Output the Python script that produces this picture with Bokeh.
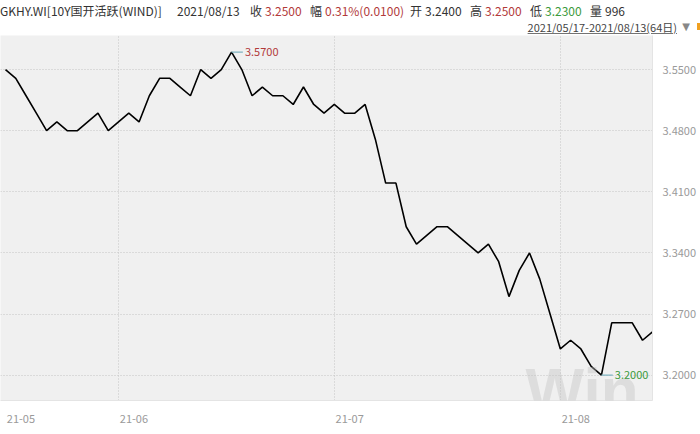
from bokeh.plotting import figure
from bokeh.layouts import column
from bokeh.models import FixedTicker, Label, Range1d, NumeralTickFormatter, Div
from bokeh.embed import file_html
from bokeh.resources import INLINE
from bokeh.core.properties import value

# ---------------- data ----------------
values = [3.55, 3.54, 3.52, 3.50, 3.48, 3.49, 3.48, 3.48, 3.49, 3.50,
          3.48, 3.49, 3.50, 3.49, 3.52, 3.54, 3.54, 3.53, 3.52, 3.55,
          3.54, 3.55, 3.57, 3.55, 3.52, 3.53, 3.52, 3.52, 3.51, 3.53,
          3.51, 3.50, 3.51, 3.50, 3.50, 3.51, 3.47, 3.42, 3.42, 3.37,
          3.35, 3.36, 3.37, 3.37, 3.36, 3.35, 3.34, 3.35, 3.33, 3.29,
          3.32, 3.34, 3.31, 3.27, 3.23, 3.24, 3.23, 3.21, 3.20, 3.26,
          3.26, 3.26, 3.24, 3.25]
month_labels = ["21-05", "21-06", "21-07", "21-08"]
month_start_idx = [0, 11, 32, 54]
y_ticks = [3.20, 3.27, 3.34, 3.41, 3.48, 3.55]

code_name = "GKHY.WI[10Y国开活跃(WIND)]"
last_date = "2021/08/13"
close_v = "3.2500"
change_v = "0.31%(0.0100)"
open_v = "3.2400"
high_v = "3.2500"
low_v = "3.2300"
volume_v = "996"
period = "2021/05/17-2021/08/13(64日)"

x = list(range(len(values)))

FONT = "Noto Sans CJK SC"
RED = "#b23a3a"
GREEN = "#3c9a3c"
DARK = "#333333"
GRID = "#c4c4c4"

# ---------------- header ----------------
segments = [
    (code_name, DARK, 0),
    (last_date, DARK, 177),
    ("收", DARK, 250),
    (close_v, RED, 265),
    ("幅", DARK, 310),
    (change_v, RED, 325),
    ("开", DARK, 410),
    (open_v, DARK, 425),
    ("高", DARK, 470),
    (high_v, RED, 485),
    ("低", DARK, 530),
    (low_v, GREEN, 545),
    ("量", DARK, 590),
    (volume_v, DARK, 605),
]
spans = "".join(
    f'<span style="position:absolute;left:{sx}px;top:4px;line-height:14px;color:{col};'
    f'white-space:nowrap;">{txt}</span>'
    for txt, col, sx in segments)
line2 = (f'<span style="position:absolute;right:23px;top:21px;line-height:12px;color:#444;'
         f'font-size:11px;text-decoration:underline;white-space:nowrap;">{period}</span>'
         '<span style="position:absolute;right:10px;top:21px;line-height:12px;color:#888;'
         'font-size:10px;font-family:\'DejaVu Sans\';">▼</span>'
         '<span style="position:absolute;right:0px;top:23px;width:3px;height:7px;'
         'background:#f0a020;"></span>')
html = (f'<div style="position:relative;width:700px;height:33px;font-family:\'{FONT}\';'
        f'font-size:12px;">{spans}{line2}</div>')
header = Div(text=html, width=700, height=33, margin=(0, 0, 0, 0))

# ---------------- chart ----------------
p = figure(width=700, height=401, output_backend="svg", toolbar_location=None,
           y_axis_location="right",
           x_range=Range1d(-0.487, 62.97), y_range=Range1d(3.171, 3.589),
           min_border_left=0, min_border_right=48, min_border_top=2, min_border_bottom=34,
           margin=(0, 0, 0, 0))
p.background_fill_color = "#f0f0f0"
p.border_fill_color = "white"
p.outline_line_color = None

p.yaxis.ticker = FixedTicker(ticks=y_ticks)
p.yaxis.formatter = NumeralTickFormatter(format="0.0000")
p.xaxis.ticker = FixedTicker(ticks=[i + 1.5 for i in month_start_idx])
p.xaxis.major_label_overrides = {i + 1.5: l for i, l in zip(month_start_idx, month_labels)}
for ax in (p.xaxis[0], p.yaxis[0]):
    ax.major_tick_line_color = None
    ax.minor_tick_line_color = None
    ax.major_tick_out = 0
    ax.major_tick_in = 0
    ax.minor_tick_out = 0
    ax.minor_tick_in = 0
    ax.axis_line_color = "#e4e4e4"
    ax.major_label_text_color = "#9a9a9a"
    ax.major_label_text_font = FONT
    ax.major_label_text_font_size = "11px"
p.yaxis.major_label_standoff = 10
p.xaxis.major_label_standoff = 14

p.ygrid.grid_line_color = GRID
p.ygrid.grid_line_dash = "1 2"
p.xgrid.ticker = FixedTicker(ticks=month_start_idx[1:])
p.xgrid.grid_line_color = GRID
p.xgrid.grid_line_dash = "1 2"

# watermark
p.add_layout(Label(x=525, y=-23, x_units="screen", y_units="screen", text="Win.d",
                   text_font="Liberation Sans", text_font_style="bold",
                   text_font_size="62px", text_color="#c0c0c0", text_alpha=0.4))

# line
p.line(x, values, line_color="black", line_width=1.6)

# max / min annotation
imax = max(range(len(values)), key=lambda i: values[i])
imin = min(range(len(values)), key=lambda i: values[i])
for idx, col in ((imax, RED), (imin, GREEN)):
    v = values[idx]
    p.segment(x0=[idx], y0=[v], x1=[idx + 1.1], y1=[v], line_color="#7fb3c0", line_width=1.2)
    p.text(x=[idx + 1.3], y=[v], text=[f"{v:.4f}"], text_color=col,
           text_font=value(FONT), text_font_size="11px", text_baseline="middle")

layout = column(header, p, spacing=0, margin=(0, 0, 0, 0))
open("out.html", "w").write(file_html(layout, INLINE))
